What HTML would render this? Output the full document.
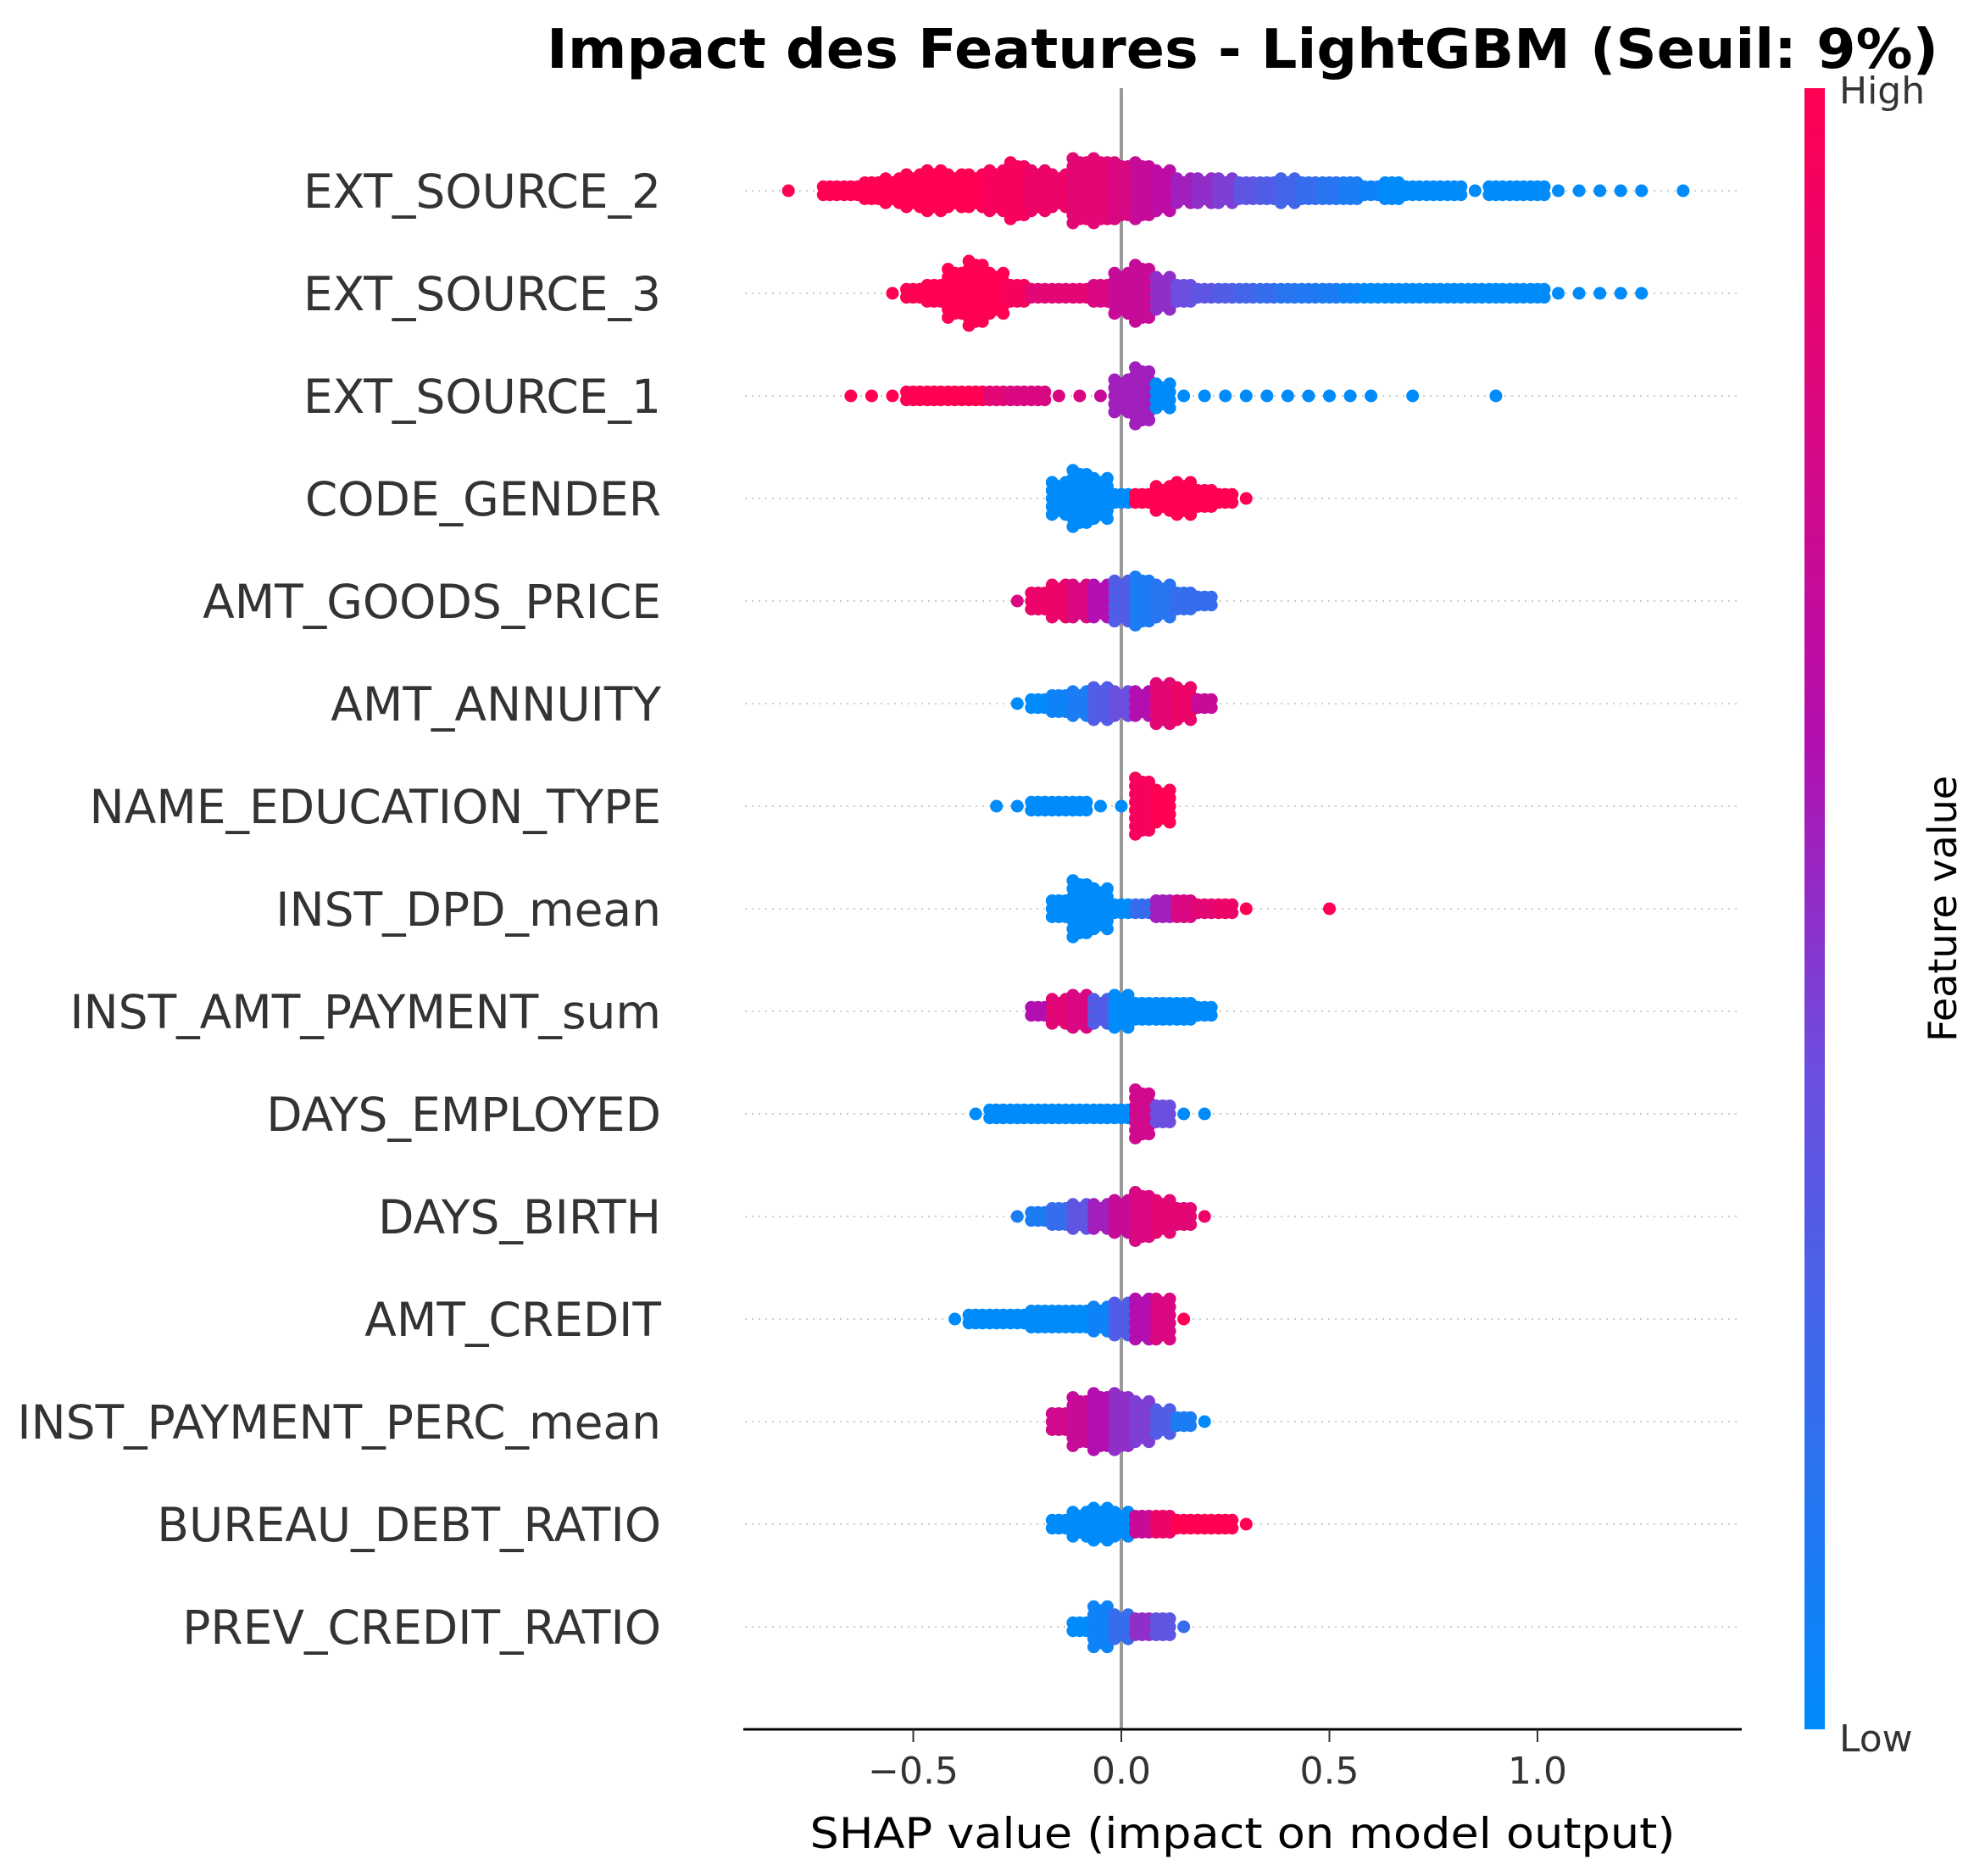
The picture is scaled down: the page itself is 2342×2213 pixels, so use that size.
<!DOCTYPE html>
<html><head><meta charset="utf-8"><style>
body{margin:0;background:#fff}
svg{display:block;font-family:"DejaVu Sans","Liberation Sans",sans-serif}
</style></head><body>
<svg id="chart" width="2342" height="2213" viewBox="0 0 2342 2213" xmlns="http://www.w3.org/2000/svg">
<defs><linearGradient id="cb" x1="0" y1="1" x2="0" y2="0">
<stop offset="0" stop-color="#008bfb"/><stop offset="0.4" stop-color="#6c4ee0"/><stop offset="0.6" stop-color="#b30fb0"/><stop offset="1" stop-color="#ff0052"/></linearGradient></defs>
<text x="1466" y="80" text-anchor="middle" font-size="64" font-weight="bold" textLength="1642" lengthAdjust="spacingAndGlyphs">Impact des Features - LightGBM (Seuil: 9%)</text>
<g id="grid"></g>
<line x1="1323" y1="104" x2="1323" y2="2039" stroke="#999" stroke-width="4"/>
<g id="dots"></g>
<g id="labels"></g>
<line x1="877" y1="2040" x2="2055" y2="2040" stroke="#000" stroke-width="3"/>
<g id="xticks"></g>
<text x="1466" y="2180" text-anchor="middle" font-size="50" textLength="1021" lengthAdjust="spacingAndGlyphs">SHAP value (impact on model output)</text>
<rect x="2129" y="104" width="24" height="1936" fill="url(#cb)"/>
<text x="2170" y="122" font-size="44" fill="#333">High</text>
<text x="2170" y="2066" font-size="44" fill="#333">Low</text>
<text transform="translate(2308,1072) rotate(-90)" text-anchor="middle" font-size="46" fill="#000">Feature value</text>
</svg>
<script>
const features=["EXT_SOURCE_2","EXT_SOURCE_3","EXT_SOURCE_1","CODE_GENDER","AMT_GOODS_PRICE","AMT_ANNUITY","NAME_EDUCATION_TYPE","INST_DPD_mean","INST_AMT_PAYMENT_sum","DAYS_EMPLOYED","DAYS_BIRTH","AMT_CREDIT","INST_PAYMENT_PERC_mean","BUREAU_DEBT_RATIO","PREV_CREDIT_RATIO"];
const binStart=-0.85, binStep=0.05;
const xTicks=[-0.5,0.0,0.5,1.0];
const xTickLabels=["\u22120.5","0.0","0.5","1.0"];
// density: dots per column per SHAP bin; color: feature value (0 low .. 1 high)
const densES2=[0,1,0,2,2,3,4,5,6,5,5,6,8,6,5,9,9,8,8,6,4,4,4,3,3,4,3,3,3,2,3,2,2,2,1,2,2,2,1,1,1,1,1,0,1,0];
const colES2=[1,1,1,1,1,1,1,1,1,1,1,.95,.95,.9,.9,.85,.85,.8,.7,.65,.55,.5,.45,.35,.3,.25,.2,.15,.1,.05,0,0,0,0,0,0,0,0,0,0,0,0,0,0,0,0];
const densES3=[0,0,0,0,0,0,1,2,3,7,9,6,3,2,2,2,3,6,8,5,3,2,2,2,2,2,2,2,2,2,2,2,2,2,2,2,2,2,1,1,1,1,1,0,0,0];
const colES3=[1,1,1,1,1,1,1,1,1,1,1,1,.95,.85,.85,.85,.8,.7,.7,.5,.4,.35,.3,.25,.2,.15,.12,.1,.05,0,0,0,0,0,0,0,0,0,0,0,0,0,0,0,0,0];
const densES1=[0,0,0,0,1,1,1,2,2,2,2,2,2,2,1,1,1,5,8,4,1,1,1,1,1,1,1,1,1,1,0,1,0,0,0,1,0,0,0,0,0,0,0,0,0,0];
const colES1=[1,1,1,1,1,1,1,1,1,1,1,.85,.8,.8,.8,.8,.7,.55,.55,0,0,0,0,0,0,0,0,0,0,0,0,0,0,0,0,0,0,0,0,0,0,0,0,0,0,0];
const densCG=[0,0,0,0,0,0,0,0,0,0,0,0,0,0,5,8,6,2,2,4,5,3,2,1,0,0,0,0,0,0,0,0,0,0,0,0,0,0,0,0,0,0,0,0,0,0];
const colCG=[0,0,0,0,0,0,0,0,0,0,0,0,0,0,0,0,0,0,1,1,1,1,1,1,1,1,1,1,1,1,1,1,1,1,1,1,1,1,1,1,1,1,1,1,1,1];
const densGP=[0,0,0,0,0,0,0,0,0,0,0,0,1,3,5,5,5,6,7,5,3,2,0,0,0,0,0,0,0,0,0,0,0,0,0,0,0,0,0,0,0,0,0,0,0,0];
const colGP=[0,0,0,0,0,0,0,0,0,0,0,0,.8,.9,.9,.8,.6,.3,.1,.15,.2,.2,0,0,0,0,0,0,0,0,0,0,0,0,0,0,0,0,0,0,0,0,0,0,0,0];
const densAN=[0,0,0,0,0,0,0,0,0,0,0,0,1,2,3,4,5,4,4,6,5,2,0,0,0,0,0,0,0,0,0,0,0,0,0,0,0,0,0,0,0,0,0,0,0,0];
const colAN=[0,0,0,0,0,0,0,0,0,0,0,0,0,0,.05,.1,.3,.4,.6,.85,.9,.7,0,0,0,0,0,0,0,0,0,0,0,0,0,0,0,0,0,0,0,0,0,0,0,0];
const densED=[0,0,0,0,0,0,0,0,0,0,0,1,1,2,2,2,1,1,8,5,0,0,0,0,0,0,0,0,0,0,0,0,0,0,0,0,0,0,0,0,0,0,0,0,0,0];
const colED=[0,0,0,0,0,0,0,0,0,0,0,0,0,0,0,0,0,0,.95,1,0,0,0,0,0,0,0,0,0,0,0,0,0,0,0,0,0,0,0,0,0,0,0,0,0,0];
const densDPD=[0,0,0,0,0,0,0,0,0,0,0,0,0,0,3,8,6,2,2,3,3,2,2,1,0,0,0,1,0,0,0,0,0,0,0,0,0,0,0,0,0,0,0,0,0,0];
const colDPD=[0,0,0,0,0,0,0,0,0,0,0,0,0,0,0,0,0,0,.2,.55,.8,.85,.9,1,1,1,1,1,0,0,0,0,0,0,0,0,0,0,0,0,0,0,0,0,0,0];
const densPAY=[0,0,0,0,0,0,0,0,0,0,0,0,0,2,4,5,4,5,3,3,3,2,0,0,0,0,0,0,0,0,0,0,0,0,0,0,0,0,0,0,0,0,0,0,0,0];
const colPAY=[0,0,0,0,0,0,0,0,0,0,0,0,0,.6,.85,.8,.3,0,0,0,0,0,0,0,0,0,0,0,0,0,0,0,0,0,0,0,0,0,0,0,0,0,0,0,0,0];
const densEMP=[0,0,0,0,0,0,0,0,0,0,1,2,2,2,2,2,2,2,7,3,1,1,0,0,0,0,0,0,0,0,0,0,0,0,0,0,0,0,0,0,0,0,0,0,0,0];
const colEMP=[0,0,0,0,0,0,0,0,0,0,0,0,0,0,0,0,0,0,.75,.4,0,0,0,0,0,0,0,0,0,0,0,0,0,0,0,0,0,0,0,0,0,0,0,0,0,0];
const densBIR=[0,0,0,0,0,0,0,0,0,0,0,0,1,2,3,4,4,5,7,5,3,1,0,0,0,0,0,0,0,0,0,0,0,0,0,0,0,0,0,0,0,0,0,0,0,0];
const colBIR=[0,0,0,0,0,0,0,0,0,0,0,0,.1,.1,.2,.35,.55,.7,.8,.85,.85,.9,0,0,0,0,0,0,0,0,0,0,0,0,0,0,0,0,0,0,0,0,0,0,0,0];
const densCR=[0,0,0,0,0,0,0,0,0,1,2,2,2,3,3,3,4,5,6,6,1,0,0,0,0,0,0,0,0,0,0,0,0,0,0,0,0,0,0,0,0,0,0,0,0,0];
const colCR=[0,0,0,0,0,0,0,0,0,0,0,0,0,0,0,0,.05,.3,.6,.8,1,0,0,0,0,0,0,0,0,0,0,0,0,0,0,0,0,0,0,0,0,0,0,0,0,0];
const densPP=[0,0,0,0,0,0,0,0,0,0,0,0,0,0,3,7,8,8,6,4,2,1,0,0,0,0,0,0,0,0,0,0,0,0,0,0,0,0,0,0,0,0,0,0,0,0];
const colPP=[0,0,0,0,0,0,0,0,0,0,0,0,0,0,.75,.7,.6,.5,.45,.3,.1,0,0,0,0,0,0,0,0,0,0,0,0,0,0,0,0,0,0,0,0,0,0,0,0,0];
const densBD=[0,0,0,0,0,0,0,0,0,0,0,0,0,0,2,4,5,4,3,3,2,2,2,1,0,0,0,0,0,0,0,0,0,0,0,0,0,0,0,0,0,0,0,0,0,0];
const colBD=[0,0,0,0,0,0,0,0,0,0,0,0,0,0,0,0,0,0,.7,.9,1,1,1,1,0,0,0,0,0,0,0,0,0,0,0,0,0,0,0,0,0,0,0,0,0,0];
const densPC=[0,0,0,0,0,0,0,0,0,0,0,0,0,0,0,2,6,4,3,3,1,0,0,0,0,0,0,0,0,0,0,0,0,0,0,0,0,0,0,0,0,0,0,0,0,0];
const colPC=[0,0,0,0,0,0,0,0,0,0,0,0,0,0,0,0,.05,.2,.5,.35,.2,0,0,0,0,0,0,0,0,0,0,0,0,0,0,0,0,0,0,0,0,0,0,0,0,0];
const densities=[densES2,densES3,densES1,densCG,densGP,densAN,densED,densDPD,densPAY,densEMP,densBIR,densCR,densPP,densBD,densPC];
const colors=[colES2,colES3,colES1,colCG,colGP,colAN,colED,colDPD,colPAY,colEMP,colBIR,colCR,colPP,colBD,colPC];

const NS="http://www.w3.org/2000/svg";
const xScale=v=>1323+v*491;
const yRow=i=>225+i*121;
function mk(tag,attrs,parent){const e=document.createElementNS(NS,tag);for(const k in attrs)e.setAttribute(k,attrs[k]);parent.appendChild(e);return e;}
const stops=[[0,[0,139,251]],[0.4,[108,78,224]],[0.6,[179,15,176]],[1,[255,0,82]]];
function cmap(t){for(let i=1;i<stops.length;i++){if(t<=stops[i][0]){const a=stops[i-1],b=stops[i];const f=(t-a[0])/(b[0]-a[0]);const c=a[1].map((v,j)=>Math.round(v+(b[1][j]-v)*f));return `rgb(${c})`;}}return "rgb(255,0,82)";}
const grid=document.getElementById('grid'),dots=document.getElementById('dots'),labels=document.getElementById('labels'),xt=document.getElementById('xticks');
features.forEach((f,i)=>{
  const y=yRow(i);
  const g=mk('line',{x1:879,y1:y,x2:2055,y2:y,stroke:'#ccc','stroke-width':2,'stroke-dasharray':'2 6'},grid);
  
  
  const t=mk('text',{x:780,y:y+20,'text-anchor':'end','font-size':55,fill:'#333'},labels);
  t.textContent=f;
  
  
  const grp=mk('g',{},dots);
  
  
  const dens=densities[i],col=colors[i];
  dens.forEach((n,b)=>{
    if(!n)return;
    const xc=xScale(binStart+b*binStep);
    const subs=n<=1?[[0,1]]:[[-8,n],[0,Math.max(1,Math.round(n*0.85))],[8,Math.max(1,Math.round(n*0.92))]];
    subs.forEach(([dx,m])=>{
      for(let k=0;k<m;k++){
        const off=(k-(m-1)/2)*9.5;
        const c=mk('circle',{cx:xc+dx,cy:y+off,r:7.5,fill:cmap(col[b])},grp);
        
        
      }
    });
  });
});
xTicks.forEach((v,i)=>{
  const x=xScale(v);
  const l=mk('line',{x1:x,y1:2040,x2:x,y2:2055,stroke:'#333','stroke-width':2},xt);
  
  
  const t=mk('text',{x:x,y:2104,'text-anchor':'middle','font-size':44,fill:'#333'},xt);
  t.textContent=xTickLabels[i];
  
  
});
</script>
</body></html>
